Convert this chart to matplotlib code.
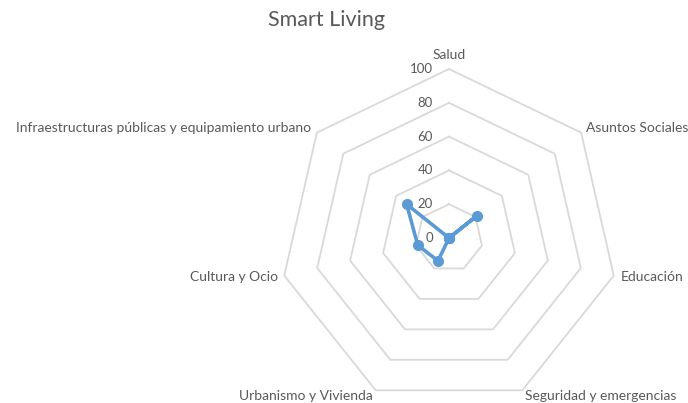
import numpy as np
import matplotlib
matplotlib.use('Agg')
import matplotlib.pyplot as plt

# data
categories = ['Salud', 'Asuntos Sociales', 'Educación', 'Seguridad y emergencias',
              'Urbanismo y Vivienda', 'Cultura y Ocio',
              'Infraestructuras públicas y equipamiento urbano']
values = [0, 21, 0, 0, 15, 19, 32]
ring_levels = [20, 40, 60, 80, 100]
ring_labels = ['0', '20', '40', '60', '80', '100']

plt.rcParams['font.family'] = ['Lato', 'DejaVu Sans']
text_col = '#595959'
grid_col = '#D9D9D9'
line_col = '#5B9BD5'

fig = plt.figure(figsize=(6.88, 4.03), dpi=100)
# polar axes centred at (449, 238) px, radius 169 px
ax = fig.add_axes([(449 - 169) / 688, (403 - 238 - 169) / 403, 338 / 688, 338 / 403],
                  projection='polar')
ax.set_theta_offset(np.pi / 2)
ax.set_theta_direction(-1)
ax.set_ylim(0, 100)
ax.axis('off')

n = len(categories)
angles = np.arange(n) * 2 * np.pi / n
closed = np.append(angles, angles[0])

# heptagon grid
for lv in ring_levels:
    ax.plot(closed, [lv] * (n + 1), color=grid_col, lw=1.3, clip_on=False, zorder=1)

# ring value labels along the top spoke
for i, lab in enumerate(ring_labels):
    ax.annotate(lab, xy=(0, i * 20), xytext=(-11.5, 0), textcoords='offset points',
                ha='right', va='center', fontsize=9.5, color=text_col,
                annotation_clip=False)

# data series
vals = values + [values[0]]
ax.plot(closed, vals, color=line_col, lw=2.6, marker='o', markersize=7,
        clip_on=False, zorder=3)

# category labels
for a, lab in zip(angles, categories):
    x = np.sin(a)
    if abs(x) < 1e-6:
        ax.text(a, 105, lab, ha='center', va='bottom', fontsize=10, color=text_col)
    else:
        ax.text(a, 104, lab, ha='left' if x > 0 else 'right', va='center',
                fontsize=10, color=text_col)

fig.text(327 / 688, 1 - 20 / 403, 'Smart Living', ha='center', va='center',
         fontsize=15.5, color=text_col)

plt.savefig('out.png', dpi=100)
